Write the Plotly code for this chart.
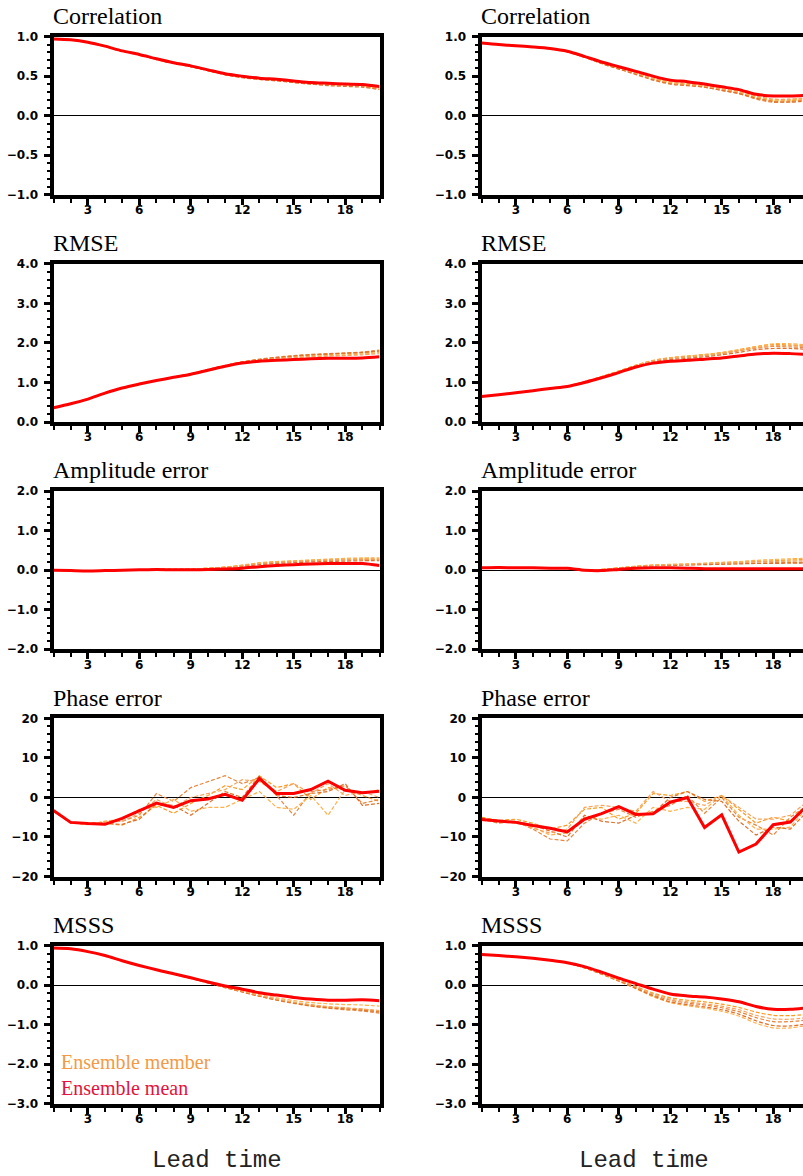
import plotly.graph_objects as go

# ---------------------------------------------------------------- data
lead = list(range(1, 21))

corr_l_mean = [0.97, 0.96, 0.93, 0.88, 0.82, 0.775, 0.72, 0.67, 0.63, 0.58,
               0.53, 0.50, 0.475, 0.46, 0.44, 0.42, 0.41, 0.40, 0.395, 0.37]
corr_l_members = [
    [0.97, 0.96, 0.93, 0.88, 0.82, 0.77, 0.72, 0.67, 0.62, 0.57, 0.52, 0.49, 0.47, 0.45, 0.43, 0.41, 0.40, 0.39, 0.38, 0.35],
    [0.97, 0.96, 0.93, 0.88, 0.82, 0.77, 0.72, 0.67, 0.62, 0.58, 0.53, 0.49, 0.46, 0.45, 0.42, 0.40, 0.39, 0.38, 0.37, 0.34],
    [0.97, 0.96, 0.93, 0.88, 0.82, 0.775, 0.72, 0.67, 0.63, 0.58, 0.52, 0.49, 0.47, 0.45, 0.43, 0.41, 0.39, 0.38, 0.38, 0.33],
    [0.97, 0.96, 0.93, 0.88, 0.82, 0.77, 0.71, 0.66, 0.62, 0.57, 0.52, 0.48, 0.46, 0.44, 0.42, 0.40, 0.38, 0.37, 0.36, 0.33],
    [0.97, 0.96, 0.93, 0.88, 0.82, 0.775, 0.72, 0.67, 0.63, 0.58, 0.53, 0.50, 0.47, 0.46, 0.43, 0.41, 0.40, 0.39, 0.39, 0.36],
]

corr_r_mean = [0.92, 0.90, 0.885, 0.87, 0.85, 0.815, 0.75, 0.68, 0.62, 0.56,
               0.50, 0.45, 0.43, 0.40, 0.365, 0.33, 0.27, 0.25, 0.25, 0.26]
corr_r_members = [
    [0.92, 0.90, 0.885, 0.87, 0.85, 0.81, 0.74, 0.67, 0.60, 0.53, 0.47, 0.42, 0.40, 0.37, 0.33, 0.29, 0.23, 0.19, 0.19, 0.21],
    [0.92, 0.90, 0.885, 0.87, 0.85, 0.81, 0.74, 0.66, 0.59, 0.53, 0.46, 0.41, 0.39, 0.36, 0.32, 0.28, 0.21, 0.17, 0.18, 0.20],
    [0.92, 0.90, 0.885, 0.87, 0.85, 0.81, 0.745, 0.67, 0.60, 0.54, 0.47, 0.42, 0.39, 0.37, 0.34, 0.30, 0.24, 0.20, 0.20, 0.22],
    [0.92, 0.90, 0.885, 0.87, 0.85, 0.81, 0.74, 0.66, 0.59, 0.52, 0.45, 0.40, 0.38, 0.36, 0.32, 0.28, 0.22, 0.18, 0.17, 0.19],
    [0.92, 0.90, 0.885, 0.87, 0.85, 0.815, 0.75, 0.67, 0.61, 0.54, 0.48, 0.43, 0.41, 0.38, 0.34, 0.31, 0.25, 0.21, 0.21, 0.23],
]

rmse_l_mean = [0.36, 0.46, 0.58, 0.73, 0.86, 0.96, 1.05, 1.13, 1.21, 1.31,
               1.41, 1.49, 1.54, 1.56, 1.58, 1.60, 1.61, 1.61, 1.62, 1.65]
rmse_l_members = [
    [0.36, 0.46, 0.58, 0.73, 0.86, 0.96, 1.05, 1.13, 1.21, 1.32, 1.42, 1.51, 1.58, 1.62, 1.66, 1.69, 1.71, 1.73, 1.75, 1.79],
    [0.36, 0.46, 0.58, 0.73, 0.86, 0.96, 1.05, 1.13, 1.22, 1.32, 1.43, 1.52, 1.59, 1.64, 1.68, 1.71, 1.73, 1.75, 1.77, 1.82],
    [0.36, 0.46, 0.58, 0.73, 0.86, 0.96, 1.05, 1.13, 1.21, 1.31, 1.42, 1.51, 1.57, 1.61, 1.64, 1.66, 1.68, 1.70, 1.72, 1.76],
    [0.36, 0.46, 0.58, 0.73, 0.86, 0.96, 1.05, 1.14, 1.22, 1.33, 1.43, 1.52, 1.58, 1.63, 1.67, 1.70, 1.72, 1.74, 1.76, 1.80],
    [0.36, 0.46, 0.58, 0.73, 0.86, 0.96, 1.05, 1.13, 1.21, 1.31, 1.41, 1.50, 1.56, 1.60, 1.63, 1.65, 1.67, 1.68, 1.70, 1.73],
]

rmse_r_mean = [0.645, 0.69, 0.74, 0.79, 0.85, 0.90, 1.00, 1.12, 1.25, 1.39,
               1.49, 1.54, 1.56, 1.59, 1.62, 1.67, 1.72, 1.74, 1.73, 1.71]
rmse_r_members = [
    [0.645, 0.69, 0.74, 0.79, 0.85, 0.91, 1.02, 1.15, 1.29, 1.44, 1.56, 1.63, 1.67, 1.71, 1.76, 1.83, 1.91, 1.96, 1.95, 1.92],
    [0.645, 0.69, 0.74, 0.79, 0.85, 0.91, 1.01, 1.14, 1.28, 1.42, 1.54, 1.61, 1.64, 1.68, 1.73, 1.80, 1.87, 1.91, 1.90, 1.88],
    [0.645, 0.69, 0.74, 0.79, 0.85, 0.91, 1.02, 1.15, 1.29, 1.43, 1.55, 1.62, 1.66, 1.70, 1.75, 1.82, 1.90, 1.98, 1.98, 1.95],
    [0.645, 0.69, 0.74, 0.79, 0.85, 0.90, 1.01, 1.13, 1.27, 1.41, 1.52, 1.58, 1.61, 1.65, 1.70, 1.76, 1.83, 1.86, 1.86, 1.84],
    [0.645, 0.69, 0.74, 0.79, 0.85, 0.91, 1.02, 1.14, 1.28, 1.43, 1.55, 1.62, 1.65, 1.69, 1.74, 1.81, 1.88, 1.93, 1.93, 1.90],
]

amp_l_mean = [0.0, -0.01, -0.02, -0.01, 0.0, 0.01, 0.02, 0.01, 0.01, 0.02,
              0.03, 0.05, 0.09, 0.12, 0.14, 0.16, 0.17, 0.17, 0.17, 0.12]
amp_l_members = [
    [0.0, -0.01, -0.02, -0.01, 0.0, 0.01, 0.02, 0.02, 0.03, 0.05, 0.08, 0.12, 0.18, 0.21, 0.23, 0.25, 0.27, 0.28, 0.29, 0.29],
    [0.0, -0.01, -0.02, -0.01, 0.0, 0.01, 0.02, 0.02, 0.03, 0.04, 0.07, 0.11, 0.16, 0.19, 0.21, 0.23, 0.25, 0.26, 0.27, 0.27],
    [0.0, -0.01, -0.02, -0.01, 0.0, 0.01, 0.02, 0.02, 0.03, 0.05, 0.08, 0.13, 0.19, 0.22, 0.24, 0.26, 0.28, 0.30, 0.31, 0.31],
    [0.0, -0.01, -0.02, -0.01, 0.0, 0.01, 0.02, 0.02, 0.02, 0.04, 0.06, 0.10, 0.14, 0.17, 0.19, 0.21, 0.22, 0.23, 0.24, 0.24],
    [0.0, -0.01, -0.02, -0.01, 0.0, 0.01, 0.02, 0.02, 0.03, 0.05, 0.07, 0.12, 0.17, 0.20, 0.22, 0.24, 0.26, 0.27, 0.28, 0.28],
]

amp_r_mean = [0.06, 0.07, 0.06, 0.06, 0.05, 0.05, 0.0, -0.01, 0.02, 0.05,
              0.06, 0.06, 0.05, 0.04, 0.04, 0.04, 0.04, 0.04, 0.04, 0.04]
amp_r_members = [
    [0.06, 0.07, 0.06, 0.06, 0.05, 0.05, 0.01, 0.02, 0.06, 0.10, 0.13, 0.14, 0.15, 0.16, 0.18, 0.20, 0.22, 0.24, 0.26, 0.27],
    [0.06, 0.07, 0.06, 0.06, 0.05, 0.05, 0.01, 0.01, 0.05, 0.09, 0.12, 0.13, 0.14, 0.15, 0.16, 0.17, 0.18, 0.19, 0.20, 0.20],
    [0.06, 0.07, 0.06, 0.06, 0.05, 0.05, 0.01, 0.02, 0.06, 0.10, 0.13, 0.15, 0.16, 0.18, 0.20, 0.22, 0.25, 0.27, 0.29, 0.30],
    [0.06, 0.07, 0.06, 0.06, 0.05, 0.05, 0.00, 0.01, 0.05, 0.08, 0.11, 0.12, 0.13, 0.14, 0.15, 0.16, 0.17, 0.17, 0.18, 0.18],
    [0.06, 0.07, 0.06, 0.06, 0.05, 0.05, 0.01, 0.02, 0.05, 0.09, 0.12, 0.14, 0.15, 0.17, 0.18, 0.19, 0.21, 0.22, 0.23, 0.24],
]

phase_l_mean = [-3.3, -6.3, -6.6, -6.8, -5.3, -3.4, -1.4, -2.5, -0.8, -0.4,
                0.8, -0.7, 4.8, 1.0, 1.0, 2.0, 4.1, 1.8, 1.2, 1.6]
phase_l_members = [
    [-3.3, -6.3, -6.8, -6.5, -7.0, -5.0, -2.0, -4.0, -1.5, 0.5, 3.0, 2.0, 5.5, 2.5, 3.5, -0.5, 2.5, 2.0, 0.5, -1.0],
    [-3.5, -6.2, -6.5, -6.3, -6.0, -4.5, 1.0, -1.0, 2.5, 4.0, 5.5, 3.5, 5.0, 0.5, -4.5, 1.5, 2.0, 3.0, -1.5, -0.5],
    [-3.3, -6.4, -6.9, -6.0, -5.5, -3.0, -2.5, -0.5, -3.5, -2.5, -2.5, -0.5, 1.5, -2.5, -3.0, 0.5, -4.5, 2.0, 1.0, 2.0],
    [-3.4, -6.5, -6.6, -6.6, -6.8, -5.5, -1.5, -2.0, -4.5, -1.5, 1.5, 0.0, 5.5, 0.5, 0.0, 1.0, 1.5, 3.5, -2.0, -1.5],
    [-3.2, -6.3, -6.5, -6.2, -6.0, -4.0, -0.5, -2.5, 0.0, 1.0, 2.0, 4.5, 4.0, 1.5, 3.5, 1.0, 3.5, 0.5, 1.5, 0.0],
]

phase_r_mean = [-5.6, -6.0, -6.3, -7.1, -7.8, -8.7, -5.5, -4.1, -2.3, -4.3,
                -4.1, -1.2, 0.0, -7.6, -4.4, -13.8, -11.8, -6.9, -6.2, -2.0]
phase_r_members = [
    [-5.0, -5.8, -5.5, -6.5, -8.0, -7.0, -3.0, -2.5, -5.5, -4.0, 1.0, 0.5, 1.5, -1.0, 0.5, -3.0, -6.5, -5.0, -6.0, -1.5],
    [-5.5, -6.5, -6.0, -8.0, -10.5, -11.0, -6.5, -4.0, -3.0, -5.0, -3.5, -2.0, 0.5, -4.0, 0.0, -5.0, -7.0, -9.5, -5.0, -2.0],
    [-5.8, -6.0, -6.5, -7.5, -9.5, -9.0, -5.0, -5.5, -4.5, -6.5, -2.5, -3.5, -2.5, -3.0, 0.5, -4.5, -8.0, -8.0, -7.5, -2.5],
    [-5.2, -6.2, -6.0, -7.0, -8.5, -10.0, -4.5, -6.0, -6.5, -4.5, -4.0, 0.0, 1.5, -0.5, -1.0, -6.0, -9.5, -7.5, -8.0, -3.5],
    [-5.6, -5.9, -6.2, -7.8, -9.0, -8.0, -2.5, -2.0, -2.5, -3.5, 1.5, -1.0, -1.0, -2.0, 0.5, -2.5, -5.5, -5.5, -4.5, -1.0],
]

msss_l_mean = [0.94, 0.92, 0.85, 0.75, 0.62, 0.50, 0.39, 0.29, 0.19, 0.08,
               -0.02, -0.10, -0.19, -0.25, -0.31, -0.35, -0.38, -0.38, -0.37, -0.39]
msss_l_members = [
    [0.94, 0.92, 0.85, 0.75, 0.62, 0.50, 0.39, 0.28, 0.18, 0.07, -0.05, -0.16, -0.27, -0.36, -0.44, -0.50, -0.55, -0.58, -0.61, -0.66],
    [0.94, 0.92, 0.85, 0.75, 0.62, 0.50, 0.39, 0.28, 0.18, 0.06, -0.06, -0.17, -0.28, -0.38, -0.46, -0.53, -0.58, -0.62, -0.65, -0.71],
    [0.94, 0.92, 0.85, 0.75, 0.62, 0.50, 0.39, 0.29, 0.18, 0.07, -0.04, -0.14, -0.24, -0.32, -0.39, -0.44, -0.47, -0.49, -0.50, -0.53],
    [0.94, 0.92, 0.85, 0.75, 0.62, 0.50, 0.38, 0.28, 0.17, 0.06, -0.06, -0.17, -0.28, -0.37, -0.45, -0.52, -0.57, -0.60, -0.63, -0.68],
    [0.94, 0.92, 0.85, 0.75, 0.62, 0.50, 0.39, 0.28, 0.18, 0.07, -0.05, -0.15, -0.26, -0.35, -0.43, -0.49, -0.54, -0.57, -0.60, -0.64],
]

msss_r_mean = [0.78, 0.75, 0.72, 0.68, 0.63, 0.57, 0.47, 0.33, 0.18, 0.04,
               -0.10, -0.22, -0.27, -0.30, -0.35, -0.42, -0.54, -0.61, -0.61, -0.57]
msss_r_members = [
    [0.78, 0.75, 0.72, 0.68, 0.63, 0.56, 0.45, 0.30, 0.14, -0.03, -0.20, -0.32, -0.38, -0.42, -0.48, -0.56, -0.68, -0.76, -0.77, -0.73],
    [0.78, 0.75, 0.72, 0.68, 0.63, 0.56, 0.44, 0.29, 0.12, -0.06, -0.25, -0.38, -0.45, -0.50, -0.57, -0.67, -0.82, -0.92, -0.92, -0.88],
    [0.78, 0.75, 0.72, 0.68, 0.63, 0.56, 0.44, 0.28, 0.10, -0.09, -0.29, -0.44, -0.52, -0.58, -0.66, -0.78, -0.96, -1.08, -1.08, -1.02],
    [0.78, 0.75, 0.72, 0.68, 0.63, 0.56, 0.44, 0.28, 0.11, -0.08, -0.27, -0.42, -0.49, -0.55, -0.62, -0.73, -0.90, -1.02, -1.03, -0.98],
    [0.78, 0.75, 0.72, 0.68, 0.63, 0.56, 0.45, 0.30, 0.13, -0.04, -0.22, -0.35, -0.42, -0.47, -0.53, -0.62, -0.76, -0.85, -0.86, -0.82],
]

panel_titles = ["Correlation", "RMSE", "Amplitude error", "Phase error", "MSSS"]
x_title = "Lead time"
legend_labels = ["Ensemble member", "Ensemble mean"]

# ---------------------------------------------------------------- styling
W, H = 803, 1176
MEAN_COLOR = "#FF0000"
MEMBER_COLORS = ["#FF9A1F", "#E8863C", "#FFB04A", "#E0702A", "#F7A35C"]
TICK_FONT = dict(family="DejaVu Sans", size=12, color="black", weight="bold")
TITLE_FONT = dict(family="Liberation Serif", size=24, color="black")

# per row: (y range, major step, minor step, tick format, smooth?, left data, right data)
rows = [
    ([-1, 1], 0.5, 0.1, ".1f", True,
     (corr_l_mean, corr_l_members), (corr_r_mean, corr_r_members)),
    ([0, 4], 1.0, 0.2, ".1f", True,
     (rmse_l_mean, rmse_l_members), (rmse_r_mean, rmse_r_members)),
    ([-2, 2], 1.0, 0.2, ".1f", True,
     (amp_l_mean, amp_l_members), (amp_r_mean, amp_r_members)),
    ([-20, 20], 10, 2, "d", False,
     (phase_l_mean, phase_l_members), (phase_r_mean, phase_r_members)),
    ([-3, 1], 1.0, 0.2, ".1f", True,
     (msss_l_mean, msss_l_members), (msss_r_mean, msss_r_members)),
]

# panel frames in pixels
col_left = [53.5, 481.5]
col_right = [379.5, 803.0]
px_per_unit = (col_right[0] - col_left[0]) / 19.0
x_ranges = [[1, 20], [1, 1 + (col_right[1] - col_left[1]) / px_per_unit]]
row_top0, row_step, row_h = 30.0, 230.0, 160.0


def fx(px):
    return px / W


def fy(px):
    return 1 - px / H


fig = go.Figure()
layout = dict(
    width=W, height=H, margin=dict(l=0, r=0, t=0, b=0),
    paper_bgcolor="white", plot_bgcolor="white", showlegend=False,
)
annotations = []

for r, (yr, ydt, ymn, yfmt, smooth, left, right) in enumerate(rows):
    title = panel_titles[r]
    top = row_top0 + r * row_step
    bot = top + row_h
    for c, (mean, members) in enumerate([left, right]):
        k = r * 2 + c + 1
        xa = "x" if k == 1 else f"x{k}"
        ya = "y" if k == 1 else f"y{k}"
        shape = "spline" if smooth else "linear"
        for i, m in enumerate(members):
            fig.add_trace(go.Scatter(
                x=lead, y=m, mode="lines", xaxis=xa, yaxis=ya,
                line=dict(color=MEMBER_COLORS[i], width=1.2, dash="4px,2px",
                          shape=shape, smoothing=0.8),
                hoverinfo="skip"))
        fig.add_trace(go.Scatter(
            x=lead, y=mean, mode="lines", xaxis=xa, yaxis=ya,
            line=dict(color=MEAN_COLOR, width=3, shape=shape, smoothing=0.8),
            hoverinfo="skip"))

        layout["xaxis" if k == 1 else f"xaxis{k}"] = dict(
            domain=[fx(col_left[c]), fx(col_right[c])], range=x_ranges[c],
            anchor=ya, tickmode="linear", tick0=0, dtick=3,
            ticks="outside", ticklen=6, tickwidth=2.5, tickcolor="black",
            minor=dict(tickmode="linear", tick0=0, dtick=1, ticks="outside",
                       ticklen=4, tickwidth=1.5, tickcolor="black"),
            showline=True, linewidth=4, linecolor="black", mirror=True,
            showgrid=False, zeroline=False, tickfont=TICK_FONT,
            ticklabelstandoff=-5, fixedrange=True)
        layout["yaxis" if k == 1 else f"yaxis{k}"] = dict(
            domain=[fy(bot), fy(top)], range=yr, anchor=xa,
            tickmode="linear", tick0=0, dtick=ydt, tickformat=yfmt,
            ticks="outside", ticklen=6, tickwidth=2.5, tickcolor="black",
            minor=dict(tickmode="linear", tick0=0, dtick=ymn, ticks="outside",
                       ticklen=3, tickwidth=1.5, tickcolor="black"),
            showline=True, linewidth=4, linecolor="black",
            mirror=(c == 0), showgrid=False,
            zeroline=True, zerolinecolor="black", zerolinewidth=1,
            tickfont=TICK_FONT, ticklabelstandoff=3, fixedrange=True)

        annotations.append(dict(
            text=title, xref="paper", yref="paper",
            x=fx(col_left[c] - 3), y=fy(top - 6),
            xanchor="left", yanchor="bottom", showarrow=False,
            font=TITLE_FONT))

# legend text inside the lower-left panel
annotations.append(dict(text=legend_labels[0], xref="paper", yref="paper",
                        x=fx(59), y=fy(1068), xanchor="left", yanchor="middle",
                        showarrow=False,
                        font=dict(family="Liberation Serif", size=20, color="#F39A45")))
annotations.append(dict(text=legend_labels[1], xref="paper", yref="paper",
                        x=fx(59), y=fy(1094), xanchor="left", yanchor="middle",
                        showarrow=False,
                        font=dict(family="Liberation Serif", size=20, color="#E4123C")))

# x-axis titles under the bottom row
for cx in (216.5, 644.0):
    annotations.append(dict(text=x_title, xref="paper", yref="paper",
                            x=fx(cx), y=fy(1167), xanchor="center", yanchor="middle",
                            showarrow=False,
                            font=dict(family="Liberation Mono", size=24, color="#222")))

layout["annotations"] = annotations
fig.update_layout(**layout)
fig.write_html("out.html")
